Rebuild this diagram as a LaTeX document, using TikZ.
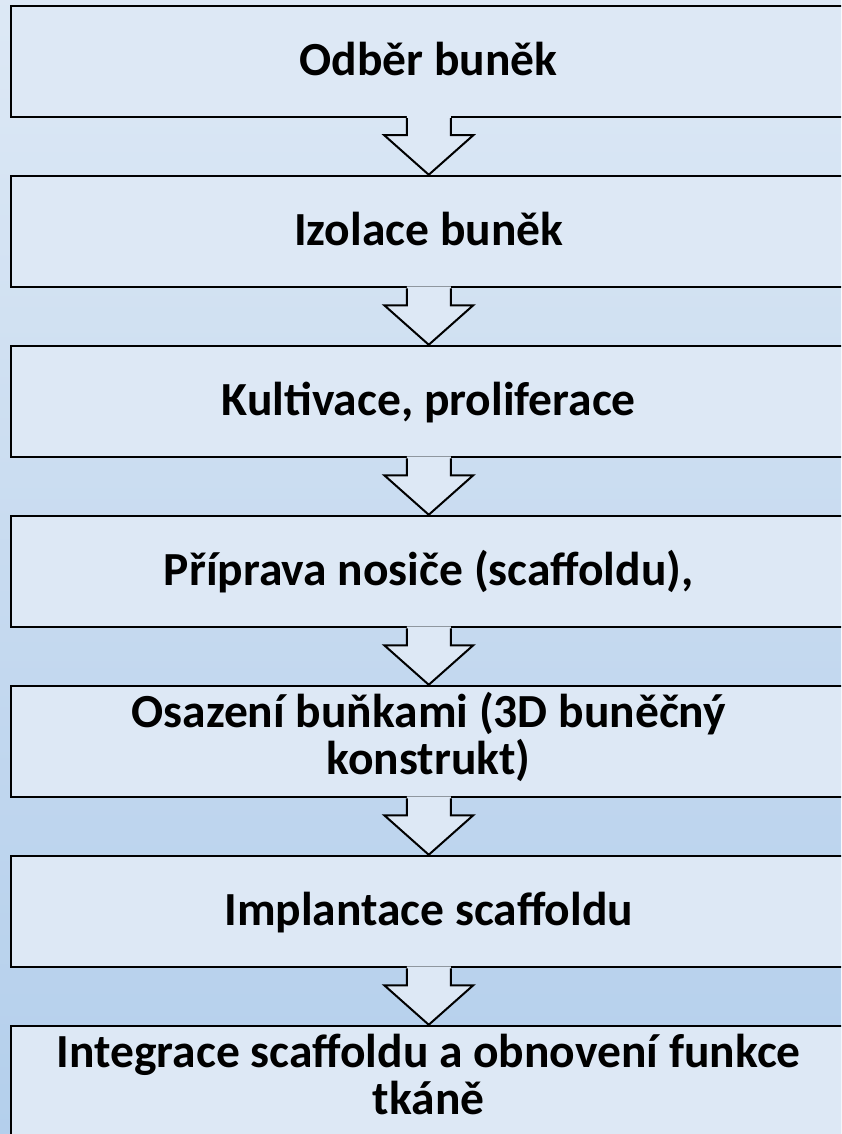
\documentclass[tikz,border=0pt]{standalone}
\usepackage{fontspec}
\setmainfont{Carlito}
\usetikzlibrary{calc}
\definecolor{boxfill}{HTML}{DDE8F5}
\definecolor{bgA}{HTML}{A4C6E9}
\definecolor{bgB}{HTML}{B0CDEB}
\definecolor{bgC}{HTML}{C3D8EF}
\definecolor{bgD}{HTML}{D9E6F4}
\definecolor{bgE}{HTML}{EFF4FB}
\pgfdeclareverticalshading{bgshade}{100bp}{color(0bp)=(bgA); color(20bp)=(bgB); color(45bp)=(bgC); color(70bp)=(bgD); color(100bp)=(bgE)}
\newcommand{\flowarrow}[2]{%
  \coordinate (A) at ($(#1.south west)+(419,0)$);
  \coordinate (T) at ($(#2.north west)+(419,0)$);
  \fill[boxfill] ($(A)+(-22,-2)$) -- ($(A)+(-22,17)$) -- ($(A)+(-44.5,17)$) -- (T) -- ($(A)+(44.5,17)$) -- ($(A)+(22,17)$) -- ($(A)+(22,-2)$) -- cycle;
  \draw[arrowline] ($(A)+(-22,0)$) -- ($(A)+(-22,17)$) -- ($(A)+(-44.5,17)$) -- (T) -- ($(A)+(44.5,17)$) -- ($(A)+(22,17)$) -- ($(A)+(22,0)$);
}
\begin{document}
\begin{tikzpicture}[x=1pt,y=-1pt,
  stepbox/.style={rectangle, draw=black, line width=2.5pt, fill=boxfill, minimum width=1200pt, minimum height=111pt, inner sep=0pt},
  lbl/.style={anchor=base, font=\fontsize{47.5}{52}\selectfont\bfseries, inner sep=0pt},
  arrowline/.style={draw=black, line width=2pt, line join=miter}]
\path[use as bounding box] (0,0) rectangle (841,1134);
\begin{scope}
\clip (0,0) rectangle (841,1134);
\fill[shading=bgshade] (0,0) rectangle (841,1134);
\node[stepbox] (b1) at (611,61.5) {};
\node[stepbox] (b2) at (611,231.5) {};
\node[stepbox] (b3) at (611,401.5) {};
\node[stepbox] (b4) at (611,571.5) {};
\node[stepbox] (b5) at (611,741.5) {};
\node[stepbox] (b6) at (611,911.5) {};
\node[stepbox] (b7) at (611,1081.5) {};
\node[lbl] (t1) at ($(b1.north west)+(419,71)$) {Odběr buněk};
\node[lbl] (t2) at ($(b2.north west)+(419,71)$) {Izolace buněk};
\node[lbl] (t3) at ($(b3.north west)+(419,71)$) {Kultivace, proliferace};
\node[lbl] (t4) at ($(b4.north west)+(419,71)$) {Příprava nosiče (scaffoldu),};
\node[lbl] (t5a) at ($(b5.north west)+(419,43)$) {Osazení buňkami (3D buněčný};
\node[lbl] (t5b) at ($(b5.north west)+(419,90)$) {konstrukt)};
\node[lbl] (t6) at ($(b6.north west)+(419,71)$) {Implantace scaffoldu};
\node[lbl] (t7a) at ($(b7.north west)+(419,43)$) {Integrace scaffoldu a obnovení funkce};
\node[lbl] (t7b) at ($(b7.north west)+(419,90)$) {tkáně};
\flowarrow{b1}{b2}
\flowarrow{b2}{b3}
\flowarrow{b3}{b4}
\flowarrow{b4}{b5}
\flowarrow{b5}{b6}
\flowarrow{b6}{b7}
\end{scope}
\end{tikzpicture}
\end{document}
